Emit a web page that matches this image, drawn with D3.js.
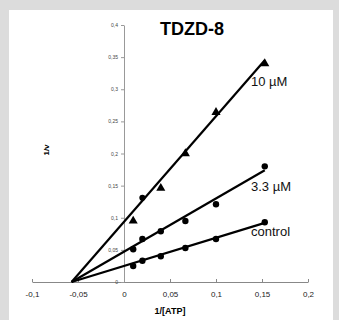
<!DOCTYPE html>
<html>
<head>
<meta charset="utf-8">
<script src="https://cdn.jsdelivr.net/npm/d3@7"></script>
<style>
  body { margin: 0; background: #dcdcdc; }
  svg { display: block; }
  text { font-family: "Liberation Sans", Arial, sans-serif; }
</style>
</head>
<body>
<svg id="chart"></svg>
<script>
var width = 339, height = 320;

// data
var xValues = [0.01, 0.02, 0.04, 0.0667, 0.1, 0.153];
var control = [0.025, 0.033, 0.04, 0.053, 0.067, 0.093];
var uM33 = [0.051, 0.067, 0.079, 0.095, 0.121, 0.18];
var uM10 = [0.095, 0.131, 0.146, 0.2, 0.264, 0.34];
var uM10Shapes = ['tri', 'circle', 'tri', 'tri', 'tri', 'tri'];

// fitted lines (start at the common x intercept)
var fitX = [-0.057, 0.153];
var fitControl = [0, 0.092];
var fit33 = [0, 0.174];
var fit10 = [0, 0.345];

var xTicks = [-0.1, -0.05, 0, 0.05, 0.1, 0.15, 0.2];
var yTicks = [0, 0.05, 0.1, 0.15, 0.2, 0.25, 0.3, 0.35, 0.4];
var seriesLabels = ['10 µM', '3.3 µM', 'control'];

var fmt = function(d) { return String(d).replace('.', ','); };

var svg = d3.select('#chart')
  .attr('width', width)
  .attr('height', height);

svg.append('rect')
  .attr('x', 9)
  .attr('y', 10)
  .attr('width', 324)
  .attr('height', 310)
  .style('fill', '#fff');

var x = d3.scaleLinear().domain([-0.1, 0.2]).range([32, 308]);
var y = d3.scaleLinear().domain([0, 0.4]).range([282, 25]);

// x axis
var xAxis = d3.axisBottom(x)
  .tickValues(xTicks)
  .tickSize(-3)
  .tickSizeOuter(0)
  .tickPadding(9)
  .tickFormat(fmt);

var xAxisGroup = svg.append('g')
  .attr('transform', 'translate(0,' + y(0) + ')')
  .call(xAxis);
xAxisGroup.select('.domain').style('stroke', '#888');
xAxisGroup.selectAll('.tick line').style('stroke', '#888');
xAxisGroup.selectAll('.tick text')
  .style('font-size', '8px')
  .style('fill', '#222');

// y axis
var yAxis = d3.axisLeft(y)
  .tickValues(yTicks)
  .tickSize(3)
  .tickSizeOuter(0)
  .tickPadding(3)
  .tickFormat(fmt);

var yAxisGroup = svg.append('g')
  .attr('transform', 'translate(' + x(0) + ',0)')
  .call(yAxis);
yAxisGroup.select('.domain').style('stroke', '#999');
yAxisGroup.selectAll('.tick line').style('stroke', '#999');
yAxisGroup.selectAll('.tick text')
  .style('font-size', '5px')
  .style('fill', '#444');

// fitted lines
var line = d3.line()
  .x(function(d, i) { return x(fitX[i]); })
  .y(function(d) { return y(d); });

[fit10, fit33, fitControl].forEach(function(f) {
  svg.append('path')
    .datum(f)
    .attr('d', line)
    .style('fill', 'none')
    .style('stroke', '#000')
    .style('stroke-width', 2.2);
});

// points
[control, uM33].forEach(function(s) {
  svg.selectAll(null)
    .data(s)
    .enter()
    .append('circle')
    .attr('cx', function(d, i) { return x(xValues[i]); })
    .attr('cy', function(d) { return y(d); })
    .attr('r', 3.2)
    .style('fill', '#000');
});

var tri = d3.symbol().type(d3.symbolTriangle).size(36);
var dot = d3.symbol().type(d3.symbolCircle).size(30);
svg.selectAll(null)
  .data(uM10)
  .enter()
  .append('path')
  .attr('transform', function(d, i) {
    return 'translate(' + x(xValues[i]) + ',' + y(d) + ')';
  })
  .attr('d', function(d, i) { return uM10Shapes[i] === 'tri' ? tri() : dot(); })
  .style('fill', '#000');

// series labels
var labelY = [86, 191, 236];
svg.selectAll('.series-label')
  .data(seriesLabels)
  .enter()
  .append('text')
  .attr('class', 'series-label')
  .attr('x', 251)
  .attr('y', function(d, i) { return labelY[i]; })
  .style('font-size', '13px')
  .style('fill', '#111')
  .text(function(d) { return d; });

// title
svg.append('text')
  .attr('x', 192)
  .attr('y', 35)
  .style('text-anchor', 'middle')
  .style('font-size', '18px')
  .style('font-weight', 'bold')
  .text('TDZD-8');

// axis labels
svg.append('text')
  .attr('x', 170)
  .attr('y', 314)
  .style('text-anchor', 'middle')
  .style('font-size', '9px')
  .style('font-weight', 'bold')
  .text('1/[ATP]');

svg.append('text')
  .attr('transform', 'translate(49,150) rotate(-90)')
  .style('text-anchor', 'middle')
  .style('font-size', '8px')
  .style('font-weight', 'bold')
  .text('1/v');
</script>
</body>
</html>
